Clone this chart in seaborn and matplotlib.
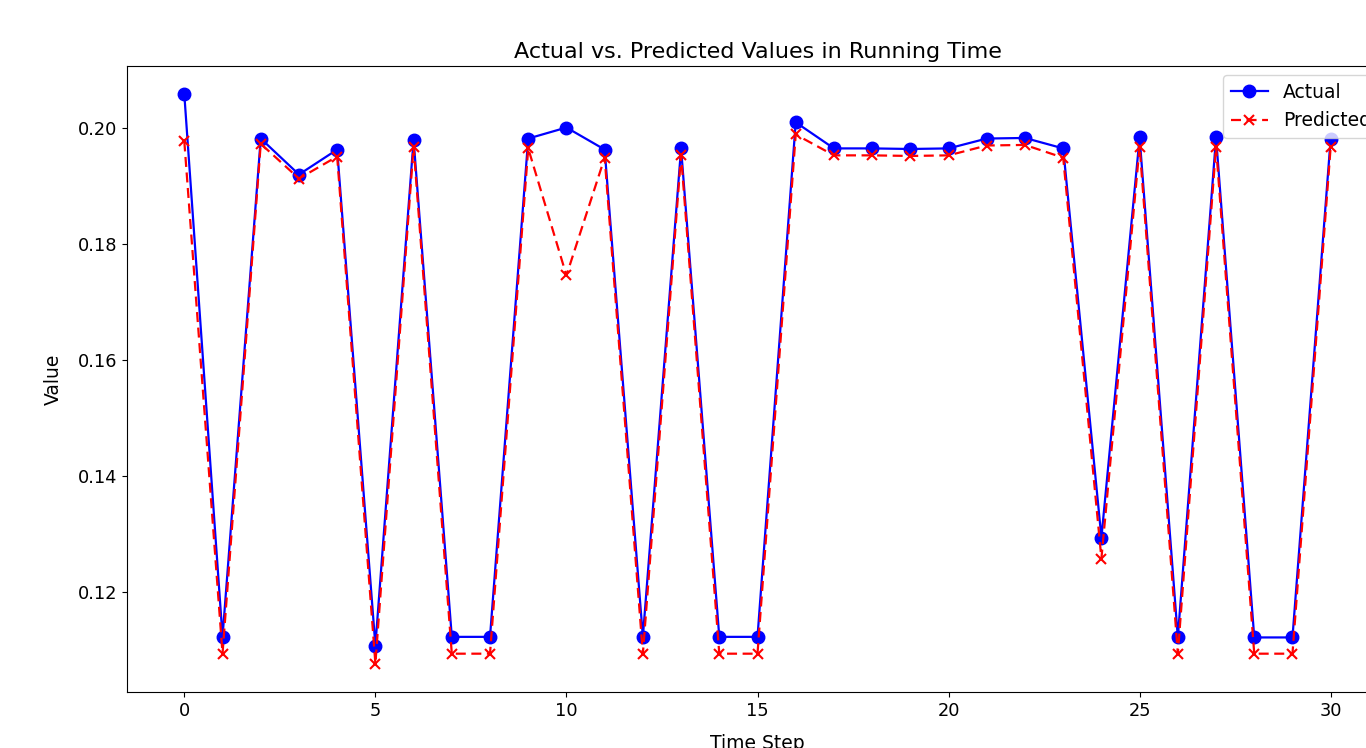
import numpy as np
import pandas as pd
import matplotlib
matplotlib.use("Agg")
import matplotlib.pyplot as plt
import seaborn as sns

time_step = list(range(31))
actual = [0.2057, 0.1122, 0.1981, 0.1919, 0.1962, 0.1107, 0.1979, 0.1122, 0.1122, 0.1981,
          0.2000, 0.1962, 0.1122, 0.1964, 0.1122, 0.1122, 0.2009, 0.1964, 0.1964, 0.1963,
          0.1964, 0.1981, 0.1982, 0.1964, 0.1293, 0.1983, 0.1121, 0.1983, 0.1121, 0.1121,
          0.1981]
predicted = [0.1976, 0.1093, 0.1972, 0.1912, 0.1950, 0.1076, 0.1967, 0.1093, 0.1093, 0.1964,
             0.1745, 0.1948, 0.1093, 0.1952, 0.1093, 0.1093, 0.1988, 0.1952, 0.1952, 0.1951,
             0.1952, 0.1969, 0.1970, 0.1948, 0.1257, 0.1967, 0.1093, 0.1967, 0.1093, 0.1093,
             0.1967]

df = pd.DataFrame({"step": time_step, "actual": actual, "predicted": predicted})

fig = plt.figure(figsize=(13.66, 7.48), dpi=100)
# axes run past the right edge of the picture, like the cropped original
ax = fig.add_axes([127 / 1366, 56 / 748, 1261 / 1366, 626 / 748])

sns.lineplot(data=df, x="step", y="actual", ax=ax, color="blue", marker="o",
             markersize=9, markeredgecolor="blue", markeredgewidth=1,
             linewidth=1.6)
sns.lineplot(data=df, x="step", y="predicted", ax=ax, color="red", marker="x",
             markersize=7.5, markeredgecolor="red", markeredgewidth=1.5,
             linewidth=1.6, linestyle=(0, (4.5, 2.5)))

ax.lines[0].set_label("Actual")
ax.lines[1].set_label("Predicted")

ax.set_title("Actual vs. Predicted Values in Running Time", fontsize=16)
ax.set_xlabel("Time Step", fontsize=13.5, labelpad=10)
ax.set_ylabel("Value", fontsize=13.5, labelpad=11)
ax.tick_params(labelsize=12.8)
ax.legend(handles=ax.lines[:2], loc="upper right", fontsize=13.5)

fig.savefig("out.png", dpi=100)
